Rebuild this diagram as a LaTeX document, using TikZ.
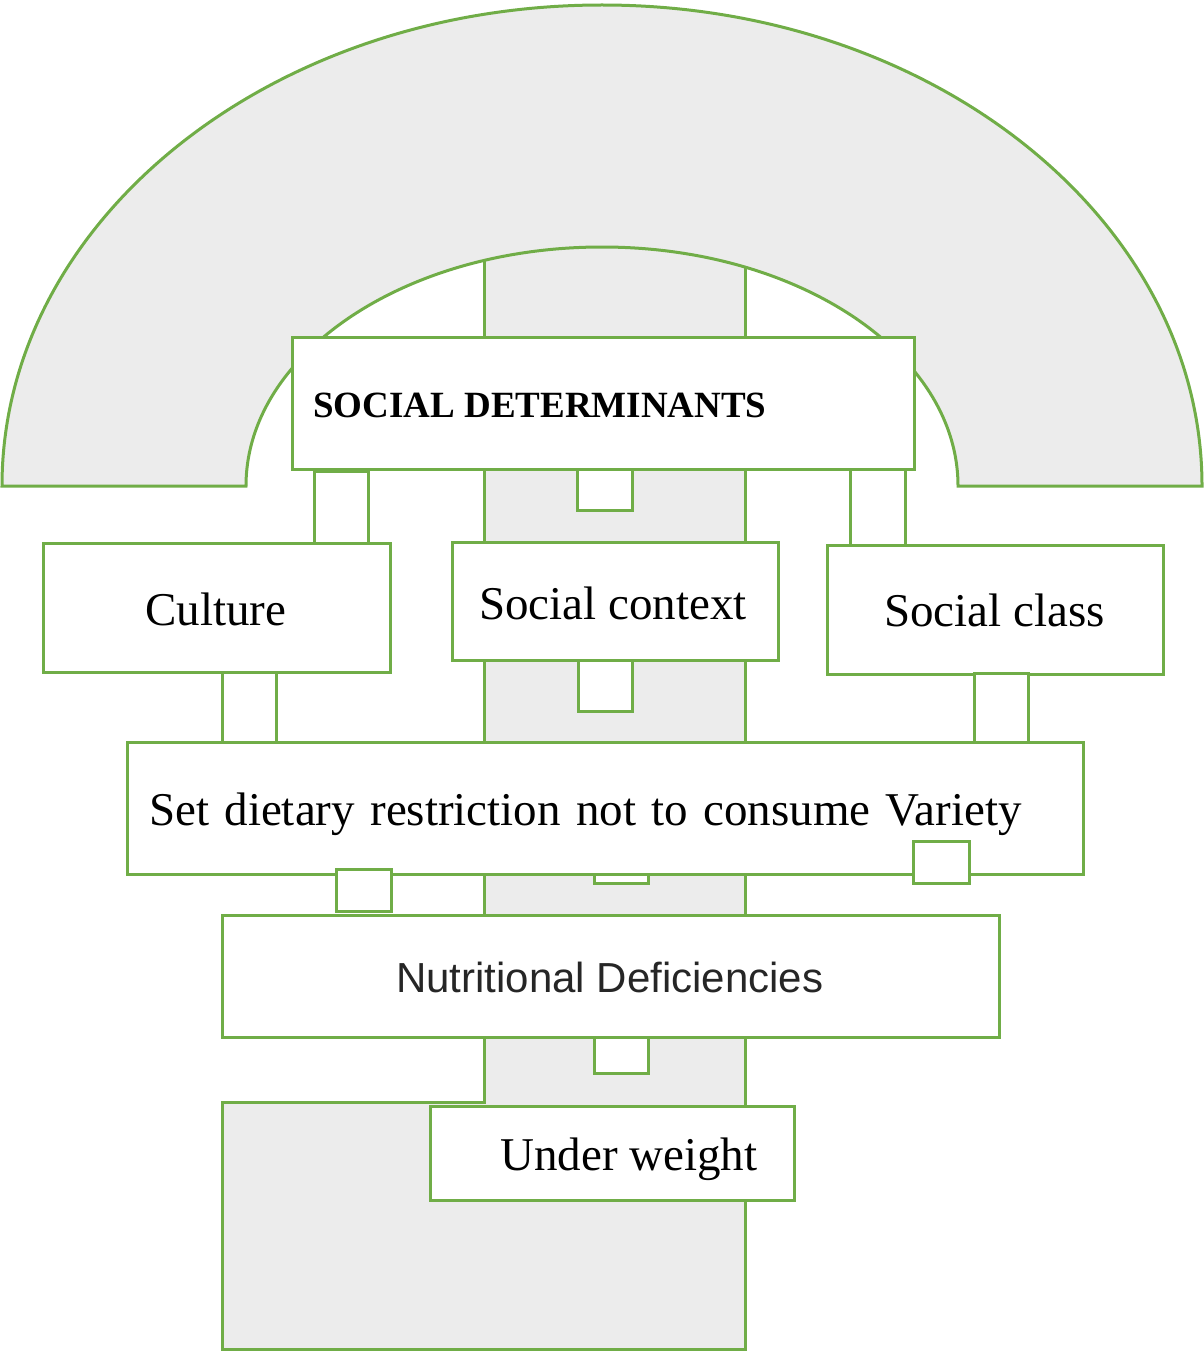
\documentclass[tikz,border=0pt]{standalone}
\usepackage{fontspec}
\setmainfont{Liberation Serif}
\newfontfamily\arialfont{Liberation Sans}
\definecolor{grn}{RGB}{112,173,71}
\definecolor{texgray}{RGB}{236,236,236}
\definecolor{darktext}{RGB}{38,38,38}
\begin{document}
\begin{tikzpicture}[x=1pt,y=-1pt,
  band/.style={draw=grn, line width=3pt, fill=texgray, line join=miter},
  box/.style={draw=grn, line width=3pt, fill=white, inner sep=0pt, rectangle},
  lbl/.style={anchor=base west, inner sep=0pt, font=\fontsize{47}{50}\selectfont},
]
\useasboundingbox (0,0) rectangle (1203,1351);
% vertical band with bottom block
\draw[band] (484,240) -- (484,1102) -- (222,1102) -- (222,1349) -- (745,1349) -- (745,240) -- cycle;
% arch ring
\draw[band] (2,486) arc[start angle=180,end angle=360,x radius=600,y radius=481]
  -- (958,486) arc[start angle=0,end angle=-180,x radius=356,y radius=239] -- cycle;
% top box
\node[box, minimum width=622pt, minimum height=132pt] (soc) at (603,403) {};
\node[box, minimum width=54pt, minimum height=72pt] (c1) at (341,507) {};
\node[box, minimum width=55pt, minimum height=76pt] (c2) at (877.5,507) {};
\node[box, minimum width=55pt, minimum height=41pt] (t1) at (604.5,489.5) {};
% second row
\node[box, minimum width=347pt, minimum height=129pt] (cul) at (216.5,607.5) {};
\node[box, minimum width=326pt, minimum height=118pt] (ctx) at (615,601) {};
\node[box, minimum width=336pt, minimum height=129pt] (cls) at (995,609.5) {};
\node[box, minimum width=54pt, minimum height=51pt] (t2) at (605,685.5) {};
\node[box, minimum width=54pt, minimum height=70pt] (c3) at (249,707) {};
\node[box, minimum width=54pt, minimum height=69pt] (c4) at (1001,707.5) {};
% diet box
\node[box, minimum width=956pt, minimum height=132pt] (diet) at (605,808) {};
\node[box, minimum width=54pt, minimum height=9pt] (t5) at (621,878.5) {};
\node[box, minimum width=56pt, minimum height=42pt] (t3) at (941,862) {};
\node[box, minimum width=55pt, minimum height=42pt] (t4) at (363.5,890) {};
% nutritional
\node[box, minimum width=777pt, minimum height=122pt] (nut) at (610.5,976) {};
\node[box, minimum width=54pt, minimum height=36pt] (t6) at (621,1055) {};
% under weight
\node[box, minimum width=364pt, minimum height=94pt] (uw) at (612,1153) {};
% texts
\node[anchor=base west, inner sep=0pt, font=\fontsize{37}{40}\selectfont\bfseries] (socT) at (313,417) {SOCIAL DETERMINANTS};
\node[lbl] (culT) at (145,625) {Culture};
\node[lbl] (ctxT) at (479,619) {Social context};
\node[lbl] (clsT) at (884,626) {Social class};
\node[lbl] (dietT) at (149,825) {\spaceskip=15.3pt Set dietary restriction not to consume Variety};
\node[anchor=base west, inner sep=0pt, text=darktext, font=\arialfont\fontsize{42}{45}\selectfont] (nutT) at (396,992) {Nutritional Deficiencies};
\node[lbl] (uwT) at (500,1170) {Under weight};
\end{tikzpicture}
\end{document}
